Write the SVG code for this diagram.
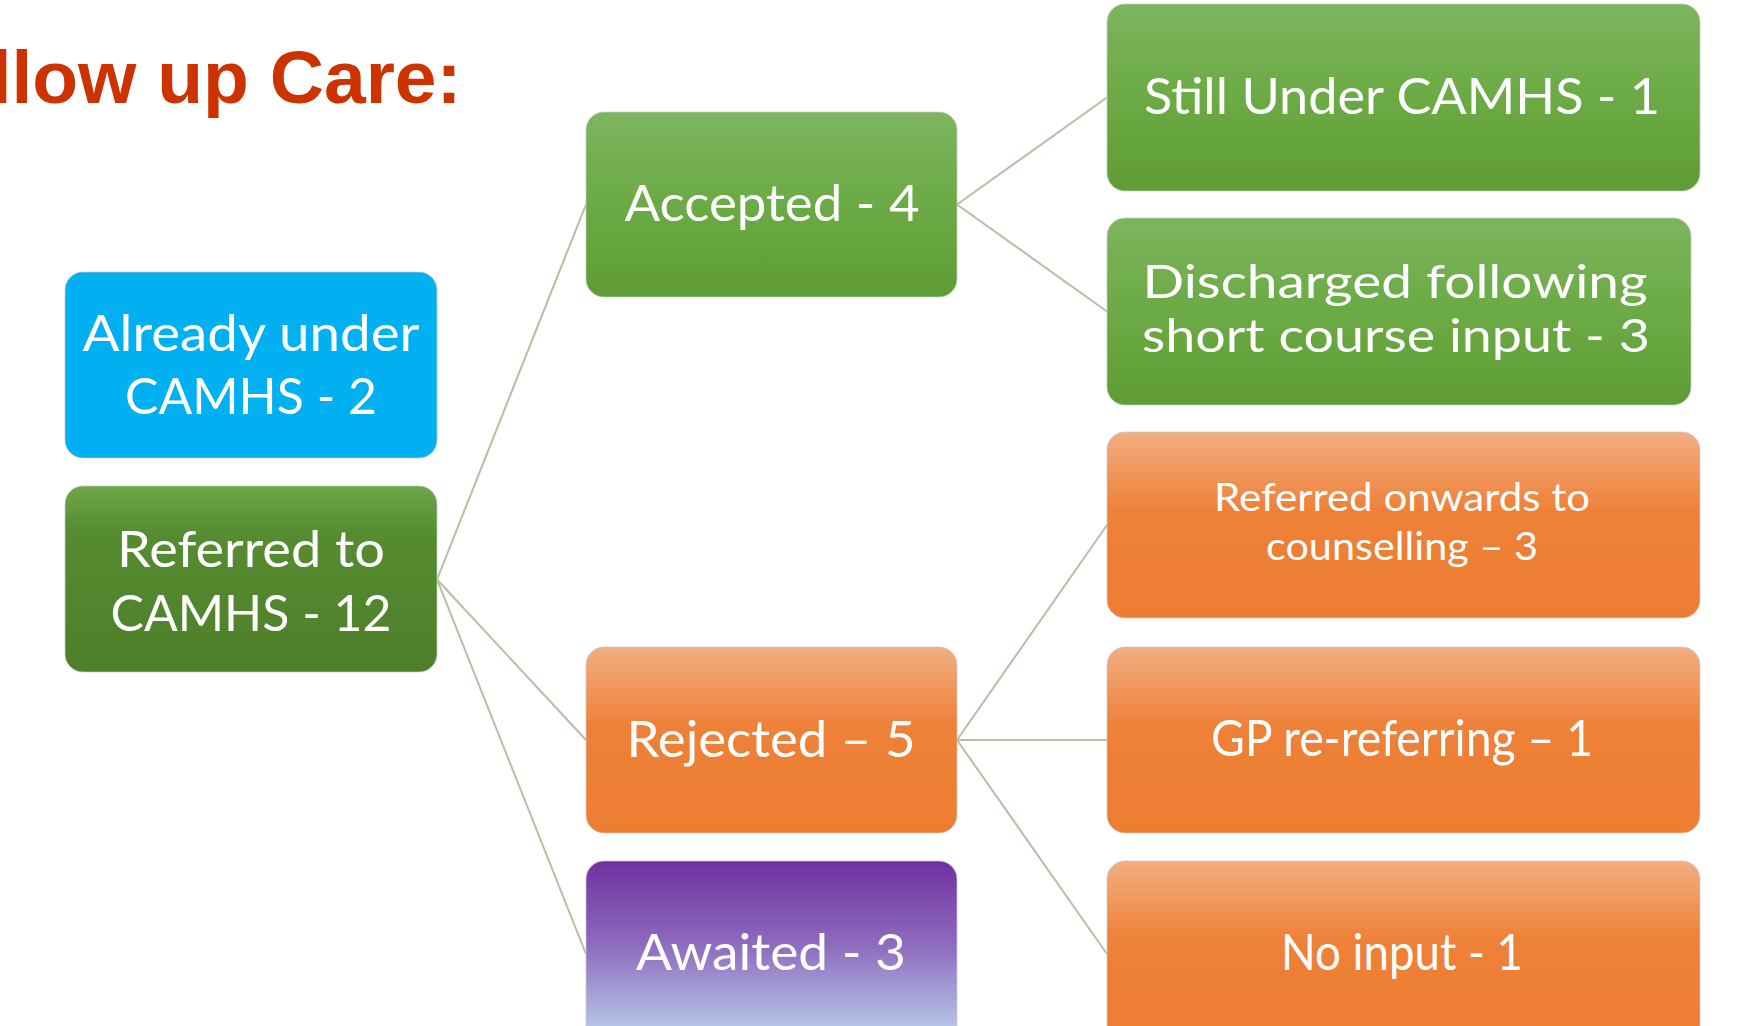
<svg xmlns="http://www.w3.org/2000/svg" width="1753" height="1026" viewBox="0 0 1753 1026">
<defs>
<linearGradient id="gLight" x1="0" y1="0" x2="0" y2="1">
<stop offset="0" stop-color="#7DB55F"/>
<stop offset="0.5" stop-color="#6BAA44"/>
<stop offset="1" stop-color="#5F9C36"/>
</linearGradient>
<linearGradient id="gDark" x1="0" y1="0" x2="0" y2="1">
<stop offset="0" stop-color="#6FA64A"/>
<stop offset="0.25" stop-color="#568C31"/>
<stop offset="1" stop-color="#4E7F2A"/>
</linearGradient>
<linearGradient id="gOrange" x1="0" y1="0" x2="0" y2="1">
<stop offset="0" stop-color="#F2AE82"/>
<stop offset="0.42" stop-color="#EE8138"/>
<stop offset="1" stop-color="#ED7D31"/>
</linearGradient>
<linearGradient id="gPurple" x1="0" y1="0" x2="0" y2="1">
<stop offset="0" stop-color="#7030A0"/>
<stop offset="0.45" stop-color="#8E6BBE"/>
<stop offset="1" stop-color="#BFDAF0"/>
</linearGradient>
<style>
.box{stroke:#C9C9C9;stroke-width:1;stroke-opacity:0.7}
.t{font-family:Lato,"Open Sans","Liberation Sans",sans-serif;fill:#FFFFFF;text-anchor:middle}
.m{font-size:50px}
.d{font-size:46px}
.s{font-size:39px}
.conn line{stroke:#B4C0A4;stroke-width:2}
</style>
</defs>
<rect width="1753" height="1026" fill="#FFFFFF"/>
<text x="-101" y="103" font-family="'Liberation Sans',Arial,sans-serif" font-weight="bold" font-size="75" fill="#CC3300">Follow up Care:</text>
<g id="connectors" class="conn">
<line x1="437" y1="579.5" x2="586" y2="204.5"/>
<line x1="437" y1="579.5" x2="586" y2="740"/>
<line x1="437" y1="579.5" x2="586" y2="954"/>
<line x1="957" y1="204.5" x2="1107" y2="97.5"/>
<line x1="957" y1="204.5" x2="1107" y2="311.5"/>
<line x1="957" y1="740" x2="1107" y2="525"/>
<line x1="957" y1="740" x2="1107" y2="740"/>
<line x1="957" y1="740" x2="1107" y2="954"/>
</g>
<g id="already">
<rect class="box" x="65" y="272" width="372" height="186" rx="18" fill="#00B0F0"/>
<text class="t m" x="251" y="351" textLength="337" lengthAdjust="spacingAndGlyphs">Already under</text>
<text class="t m" x="251" y="414" textLength="252" lengthAdjust="spacingAndGlyphs">CAMHS - 2</text>
</g>
<g id="referred">
<rect class="box" x="65" y="486" width="372" height="186" rx="18" fill="url(#gDark)"/>
<text class="t m" x="251" y="567" textLength="268" lengthAdjust="spacingAndGlyphs">Referred to</text>
<text class="t m" x="251" y="631" textLength="281" lengthAdjust="spacingAndGlyphs">CAMHS - 12</text>
</g>
<g id="accepted">
<rect class="box" x="586" y="112" width="371" height="185" rx="18" fill="url(#gLight)"/>
<text class="t m" x="772" y="221" textLength="295" lengthAdjust="spacingAndGlyphs">Accepted - 4</text>
</g>
<g id="rejected">
<rect class="box" x="586" y="647" width="371" height="186" rx="18" fill="url(#gOrange)"/>
<text class="t m" x="771" y="757" textLength="289" lengthAdjust="spacingAndGlyphs">Rejected – 5</text>
</g>
<g id="awaited">
<rect class="box" x="586" y="861" width="371" height="186" rx="18" fill="url(#gPurple)"/>
<text class="t m" x="771" y="970" textLength="270" lengthAdjust="spacingAndGlyphs">Awaited - 3</text>
</g>
<g id="still">
<rect class="box" x="1107" y="4" width="593" height="187" rx="18" fill="url(#gLight)"/>
<text class="t m" x="1402" y="114" textLength="516" lengthAdjust="spacingAndGlyphs">Still Under CAMHS - 1</text>
</g>
<g id="discharged">
<rect class="box" x="1107" y="218" width="584" height="187" rx="18" fill="url(#gLight)"/>
<text class="t d" x="1395" y="298" textLength="505" lengthAdjust="spacingAndGlyphs">Discharged following</text>
<text class="t d" x="1396" y="352" textLength="508" lengthAdjust="spacingAndGlyphs">short course input - 3</text>
</g>
<g id="onwards">
<rect class="box" x="1107" y="432" width="593" height="186" rx="18" fill="url(#gOrange)"/>
<text class="t s" x="1402" y="511" textLength="376" lengthAdjust="spacingAndGlyphs">Referred onwards to</text>
<text class="t s" x="1402" y="560" textLength="272" lengthAdjust="spacingAndGlyphs">counselling – 3</text>
</g>
<g id="gp">
<rect class="box" x="1107" y="647" width="593" height="186" rx="18" fill="url(#gOrange)"/>
<text class="t m" x="1402" y="756" textLength="382" lengthAdjust="spacingAndGlyphs">GP re-referring – 1</text>
</g>
<g id="noinput">
<rect class="box" x="1107" y="861" width="593" height="186" rx="18" fill="url(#gOrange)"/>
<text class="t m" x="1402" y="970" textLength="242" lengthAdjust="spacingAndGlyphs">No input - 1</text>
</g>
</svg>
